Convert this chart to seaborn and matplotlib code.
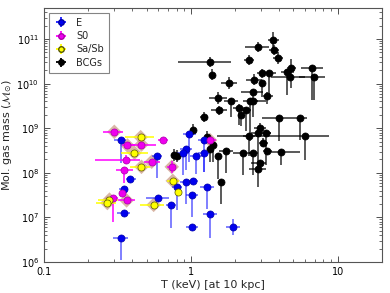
import numpy as np
import pandas as pd
import matplotlib
matplotlib.use("Agg")
import matplotlib.pyplot as plt
import seaborn as sns
from matplotlib.ticker import FuncFormatter, LogLocator, NullFormatter

# ---------------- data (T in keV, M in Msun; error extents in dex) ----------------
E_T   = [0.332, 0.585, 0.388, 0.348, 0.353, 0.332, 0.594, 0.730, 0.802, 0.925, 1.03, 1.02,
         1.29, 1.35, 1.02, 1.94, 0.969, 0.925, 0.881, 1.08, 1.23, 1.23]
E_M   = [5.4e8, 2.4e8, 7.3e7, 4.4e7, 1.26e7, 3.5e6, 2.7e7, 1.91e7, 4.8e7, 6.1e7, 6.6e7, 3.2e7,
         4.8e7, 1.17e7, 6.0e6, 6.2e6, 7.3e8, 3.4e8, 2.8e8, 2.35e8, 2.8e8, 5.4e8]
E_Tlo = [0.048, 0.035, 0.03, 0.03, 0.05, 0.05, 0.08, 0.035, 0.035, 0.04, 0.035, 0.04,
         0.05, 0.05, 0.04, 0.05, 0.04, 0.04, 0.04, 0.04, 0.04, 0.04]
E_Thi = [0.034, 0.035, 0.035, 0.03, 0.04, 0.05, 0.075, 0.035, 0.035, 0.04, 0.035, 0.04,
         0.05, 0.05, 0.04, 0.05, 0.05, 0.04, 0.04, 0.04, 0.04, 0.04]
E_Mlo = [0.52, 0.49, 0.07, 0.07, 0.05, 0.49, 0.07, 0.52, 0.52, 0.49, 0.07, 0.49,
         0.49, 0.52, 0.07, 0.18, 0.63, 0.47, 0.49, 0.40, 0.43, 0.72]
E_Mhi = [0.07, 0.07, 0.07, 0.07, 0.05, 0.07, 0.07, 0.07, 0.07, 0.07, 0.07, 0.07,
         0.07, 0.07, 0.07, 0.18, 0.07, 0.07, 0.07, 0.07, 0.07, 0.07]

S0_T   = [0.301, 0.643, 0.370, 0.461, 0.359, 0.541, 0.353, 0.741, 0.342, 0.297, 0.365, 1.35]
S0_M   = [8.3e8, 5.4e8, 4.1e8, 4.3e8, 1.96e8, 1.77e8, 1.17e8, 1.36e8, 3.6e7, 2.7e7, 2.4e7, 5.4e8]
S0_Tlo = [0.075, 0.035, 0.035, 0.12, 0.21, 0.055, 0.06, 0.03, 0.02, 0.03, 0.06, 0.04]
S0_Thi = [0.062, 0.035, 0.05, 0.10, 0.10, 0.06, 0.06, 0.03, 0.02, 0.03, 0.06, 0.04]
S0_Mlo = [0.05, 0.05, 0.05, 0.05, 0.10, 0.05, 0.29, 0.13, 0.05, 0.54, 0.05, 0.05]
S0_Mhi = [0.05, 0.05, 0.05, 0.05, 0.10, 0.05, 0.07, 0.13, 0.05, 0.05, 0.05, 0.05]
S0_halo = [1, 0, 1, 1, 0, 1, 0, 1, 0, 0, 1, 1]

SA_T   = [0.455, 0.413, 0.461, 0.753, 0.815, 0.279, 0.270, 0.558]
SA_M   = [6.3e8, 2.8e8, 1.36e8, 6.6e7, 3.8e7, 2.5e7, 2.1e7, 1.91e7]
SA_Tlo = [0.11, 0.095, 0.075, 0.04, 0.02, 0.08, 0.08, 0.09]
SA_Thi = [0.09, 0.09, 0.06, 0.04, 0.02, 0.06, 0.06, 0.07]
SA_Mlo = [0.05, 0.05, 0.05, 0.05, 0.05, 0.05, 0.05, 0.05]
SA_Mhi = [0.05, 0.05, 0.05, 0.05, 0.05, 0.05, 0.05, 0.05]
SA_halo = [1, 1, 1, 1, 0, 1, 1, 1]

B_T   = [1.35, 1.39, 1.82, 1.53, 1.88, 1.56, 1.23, 2.13, 2.20, 2.38, 2.54, 2.66, 2.70, 3.06,
         3.06, 3.42, 2.66, 3.32, 2.50, 2.88, 3.65, 3.70, 3.94, 4.55, 4.84, 4.76, 6.64, 6.85,
         4.01, 5.50, 6.04, 2.50, 1.03, 2.97, 2.88, 3.26, 3.11, 3.32, 4.13, 2.66, 2.27, 2.97,
         2.88, 1.53, 1.74, 1.60, 1.29, 1.42, 1.35, 0.766, 0.802]
B_M   = [3.0e10, 1.59e10, 1.03e10, 4.8e9, 4.1e9, 2.5e9, 1.77e9, 2.9e9, 1.96e9, 2.5e9, 4.1e9,
         4.1e9, 1.23e10, 1.03e10, 1.72e10, 1.72e10, 6.4e9, 5.4e9, 3.4e10, 6.6e10, 9.7e10,
         5.8e10, 3.8e10, 1.86e10, 2.3e10, 1.40e10, 2.2e10, 1.40e10, 1.72e9, 1.72e9, 6.8e8,
         6.8e8, 9.3e8, 1.03e9, 7.9e8, 7.9e8, 4.7e8, 3.1e8, 2.95e8, 2.8e8, 2.8e8, 1.63e8,
         1.23e8, 2.35e8, 3.1e8, 6.1e7, 6.3e8, 4.1e8, 3.4e8, 2.5e8, 2.35e8]
B_Tlo = [0.22, 0.02, 0.055, 0.06, 0.05, 0.055, 0.03, 0.04, 0.02, 0.03, 0.05, 0.03, 0.055,
         0.02, 0.035, 0.045, 0.08, 0.04, 0.035, 0.09, 0.04, 0.035, 0.035, 0.045, 0.03, 0.13,
         0.075, 0.10, 0.12, 0.055, 0.60, 0.04, 0.02, 0.04, 0.05, 0.03, 0.03, 0.03, 0.07,
         0.03, 0.07, 0.06, 0.06, 0.02, 0.05, 0.02, 0.02, 0.025, 0.02, 0.02, 0.02]
B_Thi = [0.14, 0.02, 0.055, 0.06, 0.05, 0.055, 0.03, 0.04, 0.02, 0.03, 0.11, 0.03, 0.055,
         0.02, 0.04, 0.045, 0.07, 0.04, 0.035, 0.075, 0.04, 0.035, 0.035, 0.045, 0.03, 0.10,
         0.075, 0.075, 0.08, 0.05, 0.16, 0.04, 0.02, 0.04, 0.09, 0.03, 0.03, 0.03, 0.13,
         0.03, 0.055, 0.04, 0.05, 0.02, 0.05, 0.02, 0.02, 0.025, 0.02, 0.02, 0.02]
B_Mlo = [0.11, 0.13, 0.13, 0.13, 0.36, 0.11, 0.11, 0.38, 0.25, 0.47, 0.9, 0.35, 0.13, 0.27,
         0.10, 0.47, 0.20, 0.20, 0.11, 0.11, 0.18, 0.11, 0.13, 0.52, 0.45, 0.05, 0.70, 0.52,
         0.52, 0.49, 0.54, 0.45, 0.13, 0.10, 0.78, 0.72, 0.10, 0.07, 0.30, 0.50, 0.49, 0.07,
         0.40, 0.52, 0.49, 0.49, 0.13, 0.36, 0.30, 0.13, 0.13]
B_Mhi = [0.11, 0.13, 0.13, 0.13, 0.07, 0.11, 0.11, 0.07, 0.07, 0.07, 0.07, 0.07, 0.13, 0.07,
         0.10, 0.07, 0.07, 0.07, 0.11, 0.11, 0.18, 0.11, 0.13, 0.07, 0.20, 0.05, 0.07, 0.07,
         0.07, 0.07, 0.07, 0.07, 0.13, 0.10, 0.07, 0.07, 0.10, 0.07, 0.07, 0.07, 0.07, 0.07,
         0.07, 0.07, 0.07, 0.07, 0.13, 0.07, 0.07, 0.13, 0.13]

labels = ["E", "S0", "Sa/Sb", "BCGs"]

# ---------------- figure ----------------
sns.set_style("ticks")
plt.rcParams["font.family"] = ["DejaVu Sans"]
fig = plt.figure(figsize=(3.9, 2.93), dpi=100)
ax = fig.add_axes([0.113, 0.106, 0.866, 0.867])
ax.set_xscale("log")
ax.set_yscale("log")


def errs(v, lo, hi):
    v = np.asarray(v, float)
    return [v - v * 10 ** (-np.asarray(lo)), v * 10 ** np.asarray(hi) - v]


groups = [
    ("BCGs", B_T, B_M, B_Tlo, B_Thi, B_Mlo, B_Mhi, None, "black", "black", "black", 0.7),
    ("E", E_T, E_M, E_Tlo, E_Thi, E_Mlo, E_Mhi, None, "#1a1aff", "#0000ee", "#0000aa", 0.6),
    ("S0", S0_T, S0_M, S0_Tlo, S0_Thi, S0_Mlo, S0_Mhi, S0_halo, "#ff00ff", "#ee00ee", "#aa00aa", 0.85),
    ("Sa/Sb", SA_T, SA_M, SA_Tlo, SA_Thi, SA_Mlo, SA_Mhi, SA_halo, "#ffff00", "#ffff00", "#555500", 0.85),
]

# halos (diamonds) behind S0 and Sa/Sb points
halo_rows = []
for name, T, M, tl, th, ml, mh, halo, ecol, fcol, edge, al in groups:
    if halo is not None:
        for t, m, h in zip(T, M, halo):
            if h:
                halo_rows.append({"T": t, "M": m})
halo_df = pd.DataFrame(halo_rows)
sns.scatterplot(data=halo_df, x="T", y="M", marker="D", s=55, color="#c9977f",
                alpha=0.7, edgecolor="none", ax=ax, legend=False, zorder=2)

for name, T, M, tl, th, ml, mh, halo, ecol, fcol, edge, al in groups:
    ax.errorbar(T, M, xerr=errs(T, tl, th), yerr=errs(M, ml, mh), fmt="none",
                ecolor=ecol, elinewidth=1.3, alpha=al, capsize=0, zorder=3)
    df = pd.DataFrame({"T": T, "M": M})
    sns.scatterplot(data=df, x="T", y="M", marker="o", s=26, color=fcol,
                    edgecolor=edge, linewidth=0.5, ax=ax, legend=False, zorder=4)

# legend proxies
handles = []
for name, col, fcol, edge in [("E", "#1a1aff", "#0000ee", "#0000aa"),
                              ("S0", "#ff00ff", "#ee00ee", "#aa00aa"),
                              ("Sa/Sb", "#ffff00", "#ffff00", "#555500"),
                              ("BCGs", "black", "black", "black")]:
    h = ax.errorbar([np.nan], [np.nan], xerr=[[1], [1]], yerr=[[1], [1]], fmt="o",
                    color=col, mfc=fcol, mec=edge, ms=4, elinewidth=1.3, label=name)
    handles.append(h)
leg = ax.legend(handles=handles, labels=labels, loc="upper left", fontsize=7,
                frameon=True, fancybox=False, edgecolor="#666666", handlelength=1.5,
                borderpad=0.5, labelspacing=0.35, handletextpad=0.8)
leg.get_frame().set_linewidth(0.8)

ax.set_xlim(0.1, 20)
ax.set_ylim(1e6, 5e11)
ax.xaxis.set_major_formatter(FuncFormatter(lambda v, p: "%g" % v))
ax.xaxis.set_minor_formatter(NullFormatter())
ax.yaxis.set_major_locator(LogLocator(base=10, numticks=20))
ax.tick_params(which="both", direction="in", top=True, right=True, labelsize=7,
               colors="#333333", labelcolor="black")
ax.tick_params(which="major", length=4, width=0.6)
ax.tick_params(which="minor", length=2, width=0.5)
for s in ax.spines.values():
    s.set_color("#555555")
    s.set_linewidth(0.8)

ax.set_xlabel("T (keV) [at 10 kpc]", fontsize=8, labelpad=2)
ax.set_ylabel(r"Mol. gas mass ($\mathcal{M}_{\odot}$)", fontsize=8, labelpad=2)

fig.savefig("out.png", dpi=100)
